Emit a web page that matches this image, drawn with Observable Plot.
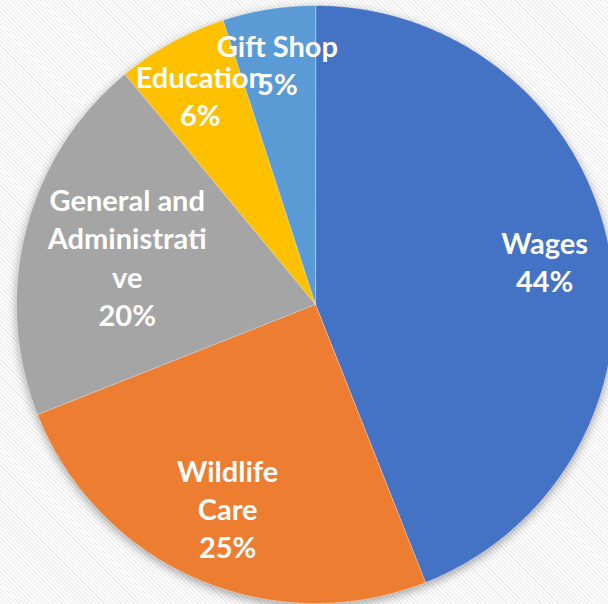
<!DOCTYPE html>
<html>
<head>
<meta charset="utf-8">
<script src="https://cdn.jsdelivr.net/npm/d3@7"></script>
<script src="https://cdn.jsdelivr.net/npm/@observablehq/plot@0.6"></script>
<style>
  html, body { margin: 0; padding: 0; }
  body {
    width: 608px; height: 604px; overflow: hidden;
    background: repeating-linear-gradient(45deg, #ffffff 0px, #ffffff 1.5px, #efefef 1.5px, #efefef 3px);
  }
  #chart svg { background: transparent; display: block; }
  #chart svg g[aria-label="line"] { filter: drop-shadow(0px 3px 5px rgba(0,0,0,0.35)); }
</style>
</head>
<body>
<div id="chart"></div>
<script>
// Data
const categories = ["Wages", "Wildlife Care", "General and Administrative", "Education", "Gift Shop"];
const shares = [44, 25, 20, 6, 5];
const labelTexts = ["Wages\n44%", "Wildlife\nCare\n25%", "General and\nAdministrati\nve\n20%", "Education\n6%", "Gift Shop\n5%"];
const colors = ["#4472C4", "#ED7D31", "#A5A5A5", "#FFC000", "#5B9BD5"];

// label placement (style)
const labelRadius = [0.78, 0.74, 0.65, 0.80, 0.815];

const arcs = d3.pie().sort(null).value(d => d)(shares);

const slicePts = [];
arcs.forEach((a, i) => {
  slicePts.push({cat: categories[i], x: 0, y: 0});
  const n = Math.max(2, Math.ceil((a.endAngle - a.startAngle) / 0.01));
  for (let k = 0; k <= n; k++) {
    const t = a.startAngle + (a.endAngle - a.startAngle) * k / n;
    slicePts.push({cat: categories[i], x: Math.sin(t), y: Math.cos(t)});
  }
});

const labels = arcs.map((a, i) => {
  const m = (a.startAngle + a.endAngle) / 2;
  return {text: labelTexts[i], x: Math.sin(m) * labelRadius[i], y: Math.cos(m) * labelRadius[i]};
});

const cx = 315, cy = 304, r = 299;
const chart = Plot.plot({
  width: 608,
  height: 604,
  margin: 0,
  style: {background: "transparent", overflow: "hidden"},
  x: {domain: [-1, 1], range: [cx - r, cx + r], axis: null},
  y: {domain: [-1, 1], range: [cy + r, cy - r], axis: null},
  color: {domain: categories, range: colors},
  marks: [
    Plot.line(slicePts, {x: "x", y: "y", z: "cat", fill: "cat", stroke: "#ffffff", strokeOpacity: 0.35, strokeWidth: 1, curve: "linear-closed"}),
    Plot.text(labels, {x: "x", y: "y", text: "text", fill: "white", fontSize: 29, fontWeight: "bold", fontFamily: "Lato", lineHeight: 1.32})
  ]
});
document.getElementById("chart").appendChild(chart);
</script>
</body>
</html>
